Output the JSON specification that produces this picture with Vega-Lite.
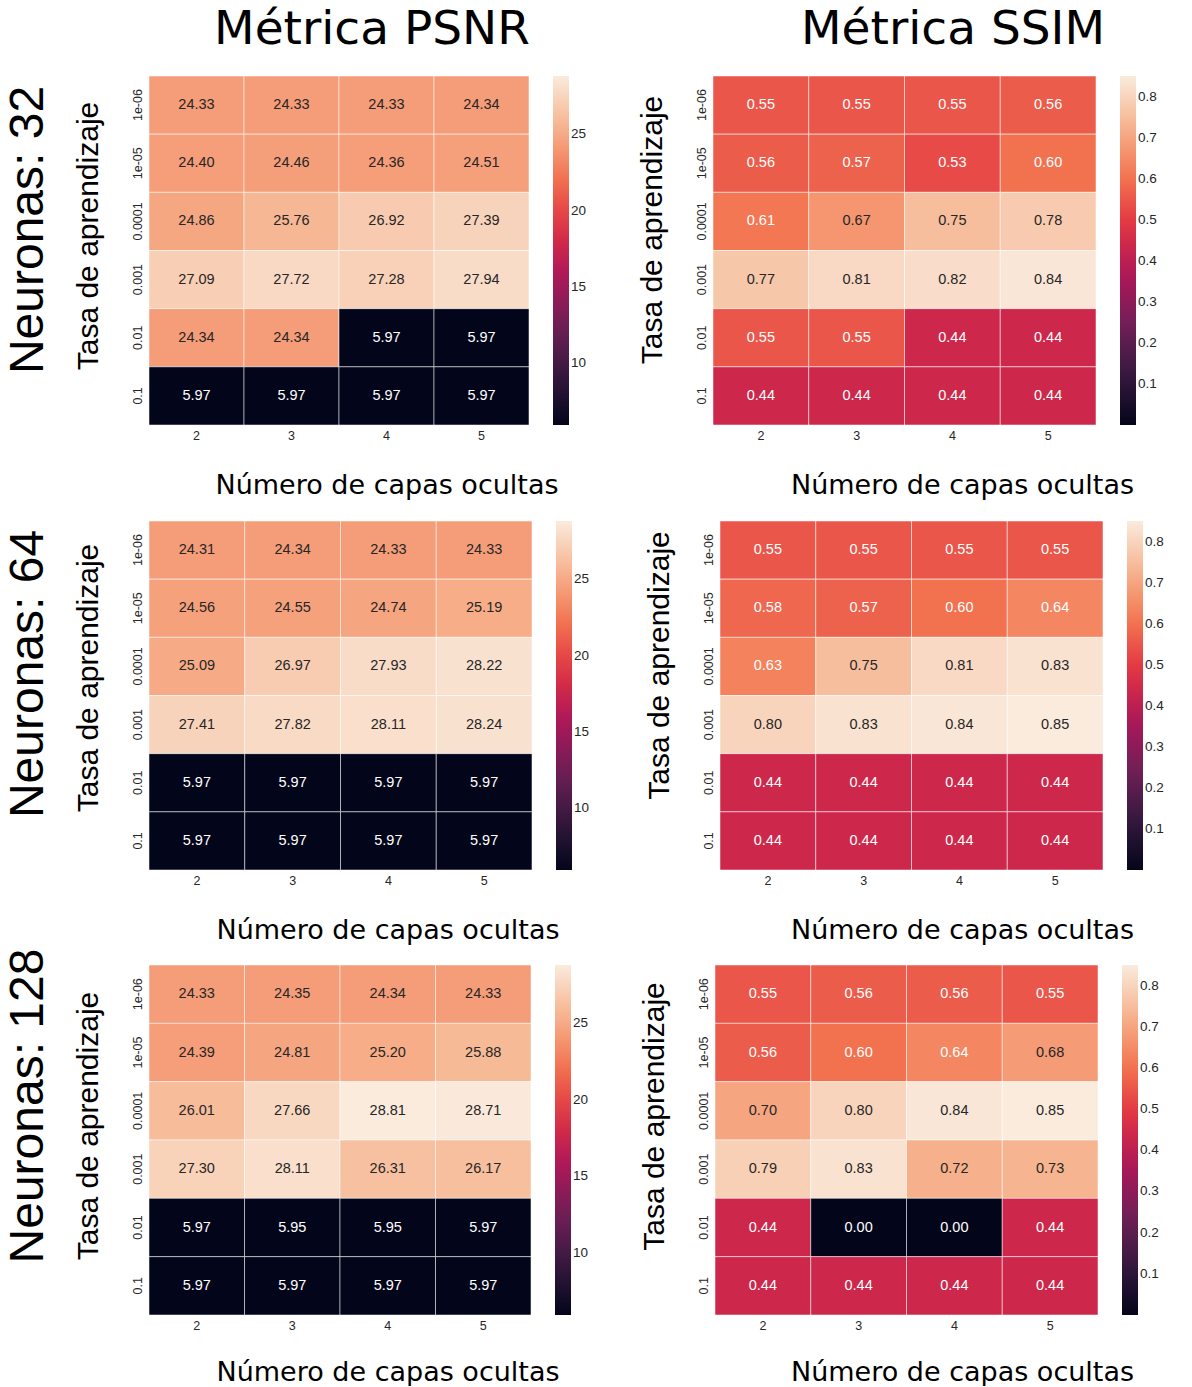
{
  "$schema": "https://vega.github.io/schema/vega-lite/v6.json",
  "padding": {"left": 4, "top": 5, "right": 0, "bottom": 0},
  "background": "white",
  "config": {
    "view": {"stroke": null},
    "axis": {"domain": false, "ticks": false, "labelFont": "Liberation Sans", "labelFontSize": 12.5, "labelColor": "#262626", "titleColor": "black", "titleFontWeight": "normal"},
    "axisX": {"labelAngle": 0, "labelPadding": 4, "titlePadding": 31, "titleFont": "DejaVu Sans", "titleFontSize": 27},
    "axisY": {"labelAngle": 270, "labelAlign": "center", "labelBaseline": "bottom", "labelPadding": 5, "titlePadding": 28, "titleFont": "Liberation Sans", "titleFontSize": 30},
    "legend": {"gradientLength": 349, "gradientThickness": 16, "labelFont": "Liberation Sans", "labelFontSize": 13.5, "labelColor": "#262626", "offset": 24, "padding": 0, "labelOffset": 7, "gradientStrokeWidth": 0, "labelOverlap": false},
    "title": {"fontWeight": "normal", "color": "black"}
  },
  "data": {"values": [
    {"neuronas":32,"metrica":"PSNR","tasa":"1e-06","capas":2,"valor":24.33},
    {"neuronas":32,"metrica":"PSNR","tasa":"1e-06","capas":3,"valor":24.33},
    {"neuronas":32,"metrica":"PSNR","tasa":"1e-06","capas":4,"valor":24.33},
    {"neuronas":32,"metrica":"PSNR","tasa":"1e-06","capas":5,"valor":24.34},
    {"neuronas":32,"metrica":"PSNR","tasa":"1e-05","capas":2,"valor":24.40},
    {"neuronas":32,"metrica":"PSNR","tasa":"1e-05","capas":3,"valor":24.46},
    {"neuronas":32,"metrica":"PSNR","tasa":"1e-05","capas":4,"valor":24.36},
    {"neuronas":32,"metrica":"PSNR","tasa":"1e-05","capas":5,"valor":24.51},
    {"neuronas":32,"metrica":"PSNR","tasa":"0.0001","capas":2,"valor":24.86},
    {"neuronas":32,"metrica":"PSNR","tasa":"0.0001","capas":3,"valor":25.76},
    {"neuronas":32,"metrica":"PSNR","tasa":"0.0001","capas":4,"valor":26.92},
    {"neuronas":32,"metrica":"PSNR","tasa":"0.0001","capas":5,"valor":27.39},
    {"neuronas":32,"metrica":"PSNR","tasa":"0.001","capas":2,"valor":27.09},
    {"neuronas":32,"metrica":"PSNR","tasa":"0.001","capas":3,"valor":27.72},
    {"neuronas":32,"metrica":"PSNR","tasa":"0.001","capas":4,"valor":27.28},
    {"neuronas":32,"metrica":"PSNR","tasa":"0.001","capas":5,"valor":27.94},
    {"neuronas":32,"metrica":"PSNR","tasa":"0.01","capas":2,"valor":24.34},
    {"neuronas":32,"metrica":"PSNR","tasa":"0.01","capas":3,"valor":24.34},
    {"neuronas":32,"metrica":"PSNR","tasa":"0.01","capas":4,"valor":5.97},
    {"neuronas":32,"metrica":"PSNR","tasa":"0.01","capas":5,"valor":5.97},
    {"neuronas":32,"metrica":"PSNR","tasa":"0.1","capas":2,"valor":5.97},
    {"neuronas":32,"metrica":"PSNR","tasa":"0.1","capas":3,"valor":5.97},
    {"neuronas":32,"metrica":"PSNR","tasa":"0.1","capas":4,"valor":5.97},
    {"neuronas":32,"metrica":"PSNR","tasa":"0.1","capas":5,"valor":5.97},
    {"neuronas":32,"metrica":"SSIM","tasa":"1e-06","capas":2,"valor":0.55},
    {"neuronas":32,"metrica":"SSIM","tasa":"1e-06","capas":3,"valor":0.55},
    {"neuronas":32,"metrica":"SSIM","tasa":"1e-06","capas":4,"valor":0.55},
    {"neuronas":32,"metrica":"SSIM","tasa":"1e-06","capas":5,"valor":0.56},
    {"neuronas":32,"metrica":"SSIM","tasa":"1e-05","capas":2,"valor":0.56},
    {"neuronas":32,"metrica":"SSIM","tasa":"1e-05","capas":3,"valor":0.57},
    {"neuronas":32,"metrica":"SSIM","tasa":"1e-05","capas":4,"valor":0.53},
    {"neuronas":32,"metrica":"SSIM","tasa":"1e-05","capas":5,"valor":0.60},
    {"neuronas":32,"metrica":"SSIM","tasa":"0.0001","capas":2,"valor":0.61},
    {"neuronas":32,"metrica":"SSIM","tasa":"0.0001","capas":3,"valor":0.67},
    {"neuronas":32,"metrica":"SSIM","tasa":"0.0001","capas":4,"valor":0.75},
    {"neuronas":32,"metrica":"SSIM","tasa":"0.0001","capas":5,"valor":0.78},
    {"neuronas":32,"metrica":"SSIM","tasa":"0.001","capas":2,"valor":0.77},
    {"neuronas":32,"metrica":"SSIM","tasa":"0.001","capas":3,"valor":0.81},
    {"neuronas":32,"metrica":"SSIM","tasa":"0.001","capas":4,"valor":0.82},
    {"neuronas":32,"metrica":"SSIM","tasa":"0.001","capas":5,"valor":0.84},
    {"neuronas":32,"metrica":"SSIM","tasa":"0.01","capas":2,"valor":0.55},
    {"neuronas":32,"metrica":"SSIM","tasa":"0.01","capas":3,"valor":0.55},
    {"neuronas":32,"metrica":"SSIM","tasa":"0.01","capas":4,"valor":0.44},
    {"neuronas":32,"metrica":"SSIM","tasa":"0.01","capas":5,"valor":0.44},
    {"neuronas":32,"metrica":"SSIM","tasa":"0.1","capas":2,"valor":0.44},
    {"neuronas":32,"metrica":"SSIM","tasa":"0.1","capas":3,"valor":0.44},
    {"neuronas":32,"metrica":"SSIM","tasa":"0.1","capas":4,"valor":0.44},
    {"neuronas":32,"metrica":"SSIM","tasa":"0.1","capas":5,"valor":0.44},
    {"neuronas":64,"metrica":"PSNR","tasa":"1e-06","capas":2,"valor":24.31},
    {"neuronas":64,"metrica":"PSNR","tasa":"1e-06","capas":3,"valor":24.34},
    {"neuronas":64,"metrica":"PSNR","tasa":"1e-06","capas":4,"valor":24.33},
    {"neuronas":64,"metrica":"PSNR","tasa":"1e-06","capas":5,"valor":24.33},
    {"neuronas":64,"metrica":"PSNR","tasa":"1e-05","capas":2,"valor":24.56},
    {"neuronas":64,"metrica":"PSNR","tasa":"1e-05","capas":3,"valor":24.55},
    {"neuronas":64,"metrica":"PSNR","tasa":"1e-05","capas":4,"valor":24.74},
    {"neuronas":64,"metrica":"PSNR","tasa":"1e-05","capas":5,"valor":25.19},
    {"neuronas":64,"metrica":"PSNR","tasa":"0.0001","capas":2,"valor":25.09},
    {"neuronas":64,"metrica":"PSNR","tasa":"0.0001","capas":3,"valor":26.97},
    {"neuronas":64,"metrica":"PSNR","tasa":"0.0001","capas":4,"valor":27.93},
    {"neuronas":64,"metrica":"PSNR","tasa":"0.0001","capas":5,"valor":28.22},
    {"neuronas":64,"metrica":"PSNR","tasa":"0.001","capas":2,"valor":27.41},
    {"neuronas":64,"metrica":"PSNR","tasa":"0.001","capas":3,"valor":27.82},
    {"neuronas":64,"metrica":"PSNR","tasa":"0.001","capas":4,"valor":28.11},
    {"neuronas":64,"metrica":"PSNR","tasa":"0.001","capas":5,"valor":28.24},
    {"neuronas":64,"metrica":"PSNR","tasa":"0.01","capas":2,"valor":5.97},
    {"neuronas":64,"metrica":"PSNR","tasa":"0.01","capas":3,"valor":5.97},
    {"neuronas":64,"metrica":"PSNR","tasa":"0.01","capas":4,"valor":5.97},
    {"neuronas":64,"metrica":"PSNR","tasa":"0.01","capas":5,"valor":5.97},
    {"neuronas":64,"metrica":"PSNR","tasa":"0.1","capas":2,"valor":5.97},
    {"neuronas":64,"metrica":"PSNR","tasa":"0.1","capas":3,"valor":5.97},
    {"neuronas":64,"metrica":"PSNR","tasa":"0.1","capas":4,"valor":5.97},
    {"neuronas":64,"metrica":"PSNR","tasa":"0.1","capas":5,"valor":5.97},
    {"neuronas":64,"metrica":"SSIM","tasa":"1e-06","capas":2,"valor":0.55},
    {"neuronas":64,"metrica":"SSIM","tasa":"1e-06","capas":3,"valor":0.55},
    {"neuronas":64,"metrica":"SSIM","tasa":"1e-06","capas":4,"valor":0.55},
    {"neuronas":64,"metrica":"SSIM","tasa":"1e-06","capas":5,"valor":0.55},
    {"neuronas":64,"metrica":"SSIM","tasa":"1e-05","capas":2,"valor":0.58},
    {"neuronas":64,"metrica":"SSIM","tasa":"1e-05","capas":3,"valor":0.57},
    {"neuronas":64,"metrica":"SSIM","tasa":"1e-05","capas":4,"valor":0.60},
    {"neuronas":64,"metrica":"SSIM","tasa":"1e-05","capas":5,"valor":0.64},
    {"neuronas":64,"metrica":"SSIM","tasa":"0.0001","capas":2,"valor":0.63},
    {"neuronas":64,"metrica":"SSIM","tasa":"0.0001","capas":3,"valor":0.75},
    {"neuronas":64,"metrica":"SSIM","tasa":"0.0001","capas":4,"valor":0.81},
    {"neuronas":64,"metrica":"SSIM","tasa":"0.0001","capas":5,"valor":0.83},
    {"neuronas":64,"metrica":"SSIM","tasa":"0.001","capas":2,"valor":0.80},
    {"neuronas":64,"metrica":"SSIM","tasa":"0.001","capas":3,"valor":0.83},
    {"neuronas":64,"metrica":"SSIM","tasa":"0.001","capas":4,"valor":0.84},
    {"neuronas":64,"metrica":"SSIM","tasa":"0.001","capas":5,"valor":0.85},
    {"neuronas":64,"metrica":"SSIM","tasa":"0.01","capas":2,"valor":0.44},
    {"neuronas":64,"metrica":"SSIM","tasa":"0.01","capas":3,"valor":0.44},
    {"neuronas":64,"metrica":"SSIM","tasa":"0.01","capas":4,"valor":0.44},
    {"neuronas":64,"metrica":"SSIM","tasa":"0.01","capas":5,"valor":0.44},
    {"neuronas":64,"metrica":"SSIM","tasa":"0.1","capas":2,"valor":0.44},
    {"neuronas":64,"metrica":"SSIM","tasa":"0.1","capas":3,"valor":0.44},
    {"neuronas":64,"metrica":"SSIM","tasa":"0.1","capas":4,"valor":0.44},
    {"neuronas":64,"metrica":"SSIM","tasa":"0.1","capas":5,"valor":0.44},
    {"neuronas":128,"metrica":"PSNR","tasa":"1e-06","capas":2,"valor":24.33},
    {"neuronas":128,"metrica":"PSNR","tasa":"1e-06","capas":3,"valor":24.35},
    {"neuronas":128,"metrica":"PSNR","tasa":"1e-06","capas":4,"valor":24.34},
    {"neuronas":128,"metrica":"PSNR","tasa":"1e-06","capas":5,"valor":24.33},
    {"neuronas":128,"metrica":"PSNR","tasa":"1e-05","capas":2,"valor":24.39},
    {"neuronas":128,"metrica":"PSNR","tasa":"1e-05","capas":3,"valor":24.81},
    {"neuronas":128,"metrica":"PSNR","tasa":"1e-05","capas":4,"valor":25.20},
    {"neuronas":128,"metrica":"PSNR","tasa":"1e-05","capas":5,"valor":25.88},
    {"neuronas":128,"metrica":"PSNR","tasa":"0.0001","capas":2,"valor":26.01},
    {"neuronas":128,"metrica":"PSNR","tasa":"0.0001","capas":3,"valor":27.66},
    {"neuronas":128,"metrica":"PSNR","tasa":"0.0001","capas":4,"valor":28.81},
    {"neuronas":128,"metrica":"PSNR","tasa":"0.0001","capas":5,"valor":28.71},
    {"neuronas":128,"metrica":"PSNR","tasa":"0.001","capas":2,"valor":27.30},
    {"neuronas":128,"metrica":"PSNR","tasa":"0.001","capas":3,"valor":28.11},
    {"neuronas":128,"metrica":"PSNR","tasa":"0.001","capas":4,"valor":26.31},
    {"neuronas":128,"metrica":"PSNR","tasa":"0.001","capas":5,"valor":26.17},
    {"neuronas":128,"metrica":"PSNR","tasa":"0.01","capas":2,"valor":5.97},
    {"neuronas":128,"metrica":"PSNR","tasa":"0.01","capas":3,"valor":5.95},
    {"neuronas":128,"metrica":"PSNR","tasa":"0.01","capas":4,"valor":5.95},
    {"neuronas":128,"metrica":"PSNR","tasa":"0.01","capas":5,"valor":5.97},
    {"neuronas":128,"metrica":"PSNR","tasa":"0.1","capas":2,"valor":5.97},
    {"neuronas":128,"metrica":"PSNR","tasa":"0.1","capas":3,"valor":5.97},
    {"neuronas":128,"metrica":"PSNR","tasa":"0.1","capas":4,"valor":5.97},
    {"neuronas":128,"metrica":"PSNR","tasa":"0.1","capas":5,"valor":5.97},
    {"neuronas":128,"metrica":"SSIM","tasa":"1e-06","capas":2,"valor":0.55},
    {"neuronas":128,"metrica":"SSIM","tasa":"1e-06","capas":3,"valor":0.56},
    {"neuronas":128,"metrica":"SSIM","tasa":"1e-06","capas":4,"valor":0.56},
    {"neuronas":128,"metrica":"SSIM","tasa":"1e-06","capas":5,"valor":0.55},
    {"neuronas":128,"metrica":"SSIM","tasa":"1e-05","capas":2,"valor":0.56},
    {"neuronas":128,"metrica":"SSIM","tasa":"1e-05","capas":3,"valor":0.60},
    {"neuronas":128,"metrica":"SSIM","tasa":"1e-05","capas":4,"valor":0.64},
    {"neuronas":128,"metrica":"SSIM","tasa":"1e-05","capas":5,"valor":0.68},
    {"neuronas":128,"metrica":"SSIM","tasa":"0.0001","capas":2,"valor":0.70},
    {"neuronas":128,"metrica":"SSIM","tasa":"0.0001","capas":3,"valor":0.80},
    {"neuronas":128,"metrica":"SSIM","tasa":"0.0001","capas":4,"valor":0.84},
    {"neuronas":128,"metrica":"SSIM","tasa":"0.0001","capas":5,"valor":0.85},
    {"neuronas":128,"metrica":"SSIM","tasa":"0.001","capas":2,"valor":0.79},
    {"neuronas":128,"metrica":"SSIM","tasa":"0.001","capas":3,"valor":0.83},
    {"neuronas":128,"metrica":"SSIM","tasa":"0.001","capas":4,"valor":0.72},
    {"neuronas":128,"metrica":"SSIM","tasa":"0.001","capas":5,"valor":0.73},
    {"neuronas":128,"metrica":"SSIM","tasa":"0.01","capas":2,"valor":0.44},
    {"neuronas":128,"metrica":"SSIM","tasa":"0.01","capas":3,"valor":0.00},
    {"neuronas":128,"metrica":"SSIM","tasa":"0.01","capas":4,"valor":0.00},
    {"neuronas":128,"metrica":"SSIM","tasa":"0.01","capas":5,"valor":0.44},
    {"neuronas":128,"metrica":"SSIM","tasa":"0.1","capas":2,"valor":0.44},
    {"neuronas":128,"metrica":"SSIM","tasa":"0.1","capas":3,"valor":0.44},
    {"neuronas":128,"metrica":"SSIM","tasa":"0.1","capas":4,"valor":0.44},
    {"neuronas":128,"metrica":"SSIM","tasa":"0.1","capas":5,"valor":0.44}
  ]},
  "columns": 1,
  "align": "none",
  "spacing": 4,
  "resolve": {"scale": {"color": "independent"}, "legend": {"color": "independent"}},
  "concat": [
    {
      "title": {"text": "Neuronas: 32", "orient": "left", "font": "Liberation Sans", "fontSize": 48, "anchor": "middle", "offset": 20, "dx": 30.5},
      "spacing": 49,
      "resolve": {"scale": {"color": "independent"}, "legend": {"color": "independent"}},
      "hconcat": [
        {
          "title": {"text": "Métrica PSNR", "font": "DejaVu Sans", "fontSize": 47, "anchor": "middle", "frame": "group", "dx": 33, "offset": 22},
          "width": 380, "height": 349,
          "transform": [{"filter": "datum.neuronas == 32 && datum.metrica == 'PSNR'"}],
          "encoding": {
            "x": {"field": "capas", "type": "ordinal", "title": ["Número de capas ocultas", " "], "scale": {"paddingInner": 0, "paddingOuter": 0}, "axis": {"titleX": 237.5, "titleLineHeight": 17}},
            "y": {"field": "tasa", "type": "ordinal", "sort": ["1e-06","1e-05","0.0001","0.001","0.01","0.1"], "title": "Tasa de aprendizaje", "scale": {"paddingInner": 0, "paddingOuter": 0}, "axis": {"titleY": 159.5}}
          },
          "layer": [
            {"mark": {"type": "rect", "stroke": "white", "strokeWidth": 1, "strokeOpacity": 0.5},
             "encoding": {"color": {"field": "valor", "type": "quantitative",
               "scale": {"domain": [5.95, 9.2157, 12.4814, 15.7471, 19.0129, 22.2786, 25.5443, 28.81], "range": ["#03051a","#35193e","#701f57","#ad1759","#e13342","#f37651","#f6b48f","#faebdd"], "interpolate": "rgb"},
               "legend": {"title": null, "values": [10, 15, 20, 25], "gradientLength": 349}}}},
            {"mark": {"type": "text", "font": "Liberation Sans", "fontSize": 14.5},
             "encoding": {"text": {"field": "valor", "type": "quantitative", "format": ".2f"},
               "color": {"condition": {"test": "datum.valor < 15", "value": "white"}, "value": "#262626"}}}
          ]
        },
        {
          "title": {"text": "Métrica SSIM", "font": "DejaVu Sans", "fontSize": 47, "anchor": "middle", "frame": "group", "dx": 48.5, "offset": 22},
          "width": 383, "height": 349,
          "transform": [{"filter": "datum.neuronas == 32 && datum.metrica == 'SSIM'"}],
          "encoding": {
            "x": {"field": "capas", "type": "ordinal", "title": ["Número de capas ocultas", " "], "scale": {"paddingInner": 0, "paddingOuter": 0}, "axis": {"titleX": 249, "titleLineHeight": 17}},
            "y": {"field": "tasa", "type": "ordinal", "sort": ["1e-06","1e-05","0.0001","0.001","0.01","0.1"], "title": "Tasa de aprendizaje", "scale": {"paddingInner": 0, "paddingOuter": 0}, "axis": {"titleY": 153.5}}
          },
          "layer": [
            {"mark": {"type": "rect", "stroke": "white", "strokeWidth": 1, "strokeOpacity": 0.5},
             "encoding": {"color": {"field": "valor", "type": "quantitative",
               "scale": {"domain": [0, 0.121429, 0.242857, 0.364286, 0.485714, 0.607143, 0.728571, 0.85], "range": ["#03051a","#35193e","#701f57","#ad1759","#e13342","#f37651","#f6b48f","#faebdd"], "interpolate": "rgb"},
               "legend": {"title": null, "values": [0.1, 0.2, 0.3, 0.4, 0.5, 0.6, 0.7, 0.8], "format": ".1f", "gradientLength": 349}}}},
            {"mark": {"type": "text", "font": "Liberation Sans", "fontSize": 14.5},
             "encoding": {"text": {"field": "valor", "type": "quantitative", "format": ".2f"},
               "color": {"condition": {"test": "datum.valor < 0.655", "value": "white"}, "value": "#262626"}}}
          ]
        }
      ]
    },
    {
      "title": {"text": "Neuronas: 64", "orient": "left", "font": "Liberation Sans", "fontSize": 48, "anchor": "middle", "offset": 20, "dx": 58},
      "spacing": 53,
      "resolve": {"scale": {"color": "independent"}, "legend": {"color": "independent"}},
      "hconcat": [
        {
          "width": 383, "height": 349,
          "transform": [{"filter": "datum.neuronas == 64 && datum.metrica == 'PSNR'"}],
          "encoding": {
            "x": {"field": "capas", "type": "ordinal", "title": "Número de capas ocultas", "scale": {"paddingInner": 0, "paddingOuter": 0}, "axis": {"titleX": 238.5}},
            "y": {"field": "tasa", "type": "ordinal", "sort": ["1e-06","1e-05","0.0001","0.001","0.01","0.1"], "title": "Tasa de aprendizaje", "scale": {"paddingInner": 0, "paddingOuter": 0}, "axis": {"titleY": 156.5}}
          },
          "layer": [
            {"mark": {"type": "rect", "stroke": "white", "strokeWidth": 1, "strokeOpacity": 0.5},
             "encoding": {"color": {"field": "valor", "type": "quantitative",
               "scale": {"domain": [5.95, 9.2157, 12.4814, 15.7471, 19.0129, 22.2786, 25.5443, 28.81], "range": ["#03051a","#35193e","#701f57","#ad1759","#e13342","#f37651","#f6b48f","#faebdd"], "interpolate": "rgb"},
               "legend": {"title": null, "values": [10, 15, 20, 25], "gradientLength": 349}}}},
            {"mark": {"type": "text", "font": "Liberation Sans", "fontSize": 14.5},
             "encoding": {"text": {"field": "valor", "type": "quantitative", "format": ".2f"},
               "color": {"condition": {"test": "datum.valor < 15", "value": "white"}, "value": "#262626"}}}
          ]
        },
        {
          "width": 383, "height": 349,
          "transform": [{"filter": "datum.neuronas == 64 && datum.metrica == 'SSIM'"}],
          "encoding": {
            "x": {"field": "capas", "type": "ordinal", "title": "Número de capas ocultas", "scale": {"paddingInner": 0, "paddingOuter": 0}, "axis": {"titleX": 242}},
            "y": {"field": "tasa", "type": "ordinal", "sort": ["1e-06","1e-05","0.0001","0.001","0.01","0.1"], "title": "Tasa de aprendizaje", "scale": {"paddingInner": 0, "paddingOuter": 0}, "axis": {"titleY": 144}}
          },
          "layer": [
            {"mark": {"type": "rect", "stroke": "white", "strokeWidth": 1, "strokeOpacity": 0.5},
             "encoding": {"color": {"field": "valor", "type": "quantitative",
               "scale": {"domain": [0, 0.121429, 0.242857, 0.364286, 0.485714, 0.607143, 0.728571, 0.85], "range": ["#03051a","#35193e","#701f57","#ad1759","#e13342","#f37651","#f6b48f","#faebdd"], "interpolate": "rgb"},
               "legend": {"title": null, "values": [0.1, 0.2, 0.3, 0.4, 0.5, 0.6, 0.7, 0.8], "format": ".1f", "gradientLength": 349}}}},
            {"mark": {"type": "text", "font": "Liberation Sans", "fontSize": 14.5},
             "encoding": {"text": {"field": "valor", "type": "quantitative", "format": ".2f"},
               "color": {"condition": {"test": "datum.valor < 0.655", "value": "white"}, "value": "#262626"}}}
          ]
        }
      ]
    },
    {
      "title": {"text": "Neuronas: 128", "orient": "left", "font": "Liberation Sans", "fontSize": 48, "anchor": "middle", "offset": 20, "dx": 69},
      "spacing": 49,
      "resolve": {"scale": {"color": "independent"}, "legend": {"color": "independent"}},
      "hconcat": [
        {
          "width": 382, "height": 350,
          "transform": [{"filter": "datum.neuronas == 128 && datum.metrica == 'PSNR'"}],
          "encoding": {
            "x": {"field": "capas", "type": "ordinal", "title": "Número de capas ocultas", "scale": {"paddingInner": 0, "paddingOuter": 0}, "axis": {"titleX": 238.5, "titlePadding": 28}},
            "y": {"field": "tasa", "type": "ordinal", "sort": ["1e-06","1e-05","0.0001","0.001","0.01","0.1"], "title": "Tasa de aprendizaje", "scale": {"paddingInner": 0, "paddingOuter": 0}, "axis": {"titleY": 160.5}}
          },
          "layer": [
            {"mark": {"type": "rect", "stroke": "white", "strokeWidth": 1, "strokeOpacity": 0.5},
             "encoding": {"color": {"field": "valor", "type": "quantitative",
               "scale": {"domain": [5.95, 9.2157, 12.4814, 15.7471, 19.0129, 22.2786, 25.5443, 28.81], "range": ["#03051a","#35193e","#701f57","#ad1759","#e13342","#f37651","#f6b48f","#faebdd"], "interpolate": "rgb"},
               "legend": {"title": null, "values": [10, 15, 20, 25], "gradientLength": 350}}}},
            {"mark": {"type": "text", "font": "Liberation Sans", "fontSize": 14.5},
             "encoding": {"text": {"field": "valor", "type": "quantitative", "format": ".2f"},
               "color": {"condition": {"test": "datum.valor < 15", "value": "white"}, "value": "#262626"}}}
          ]
        },
        {
          "width": 383, "height": 350,
          "transform": [{"filter": "datum.neuronas == 128 && datum.metrica == 'SSIM'"}],
          "encoding": {
            "x": {"field": "capas", "type": "ordinal", "title": "Número de capas ocultas", "scale": {"paddingInner": 0, "paddingOuter": 0}, "axis": {"titleX": 247, "titlePadding": 28}},
            "y": {"field": "tasa", "type": "ordinal", "sort": ["1e-06","1e-05","0.0001","0.001","0.01","0.1"], "title": "Tasa de aprendizaje", "scale": {"paddingInner": 0, "paddingOuter": 0}, "axis": {"titleY": 151}}
          },
          "layer": [
            {"mark": {"type": "rect", "stroke": "white", "strokeWidth": 1, "strokeOpacity": 0.5},
             "encoding": {"color": {"field": "valor", "type": "quantitative",
               "scale": {"domain": [0, 0.121429, 0.242857, 0.364286, 0.485714, 0.607143, 0.728571, 0.85], "range": ["#03051a","#35193e","#701f57","#ad1759","#e13342","#f37651","#f6b48f","#faebdd"], "interpolate": "rgb"},
               "legend": {"title": null, "values": [0.1, 0.2, 0.3, 0.4, 0.5, 0.6, 0.7, 0.8], "format": ".1f", "gradientLength": 350}}}},
            {"mark": {"type": "text", "font": "Liberation Sans", "fontSize": 14.5},
             "encoding": {"text": {"field": "valor", "type": "quantitative", "format": ".2f"},
               "color": {"condition": {"test": "datum.valor < 0.655", "value": "white"}, "value": "#262626"}}}
          ]
        }
      ]
    }
  ]
}
